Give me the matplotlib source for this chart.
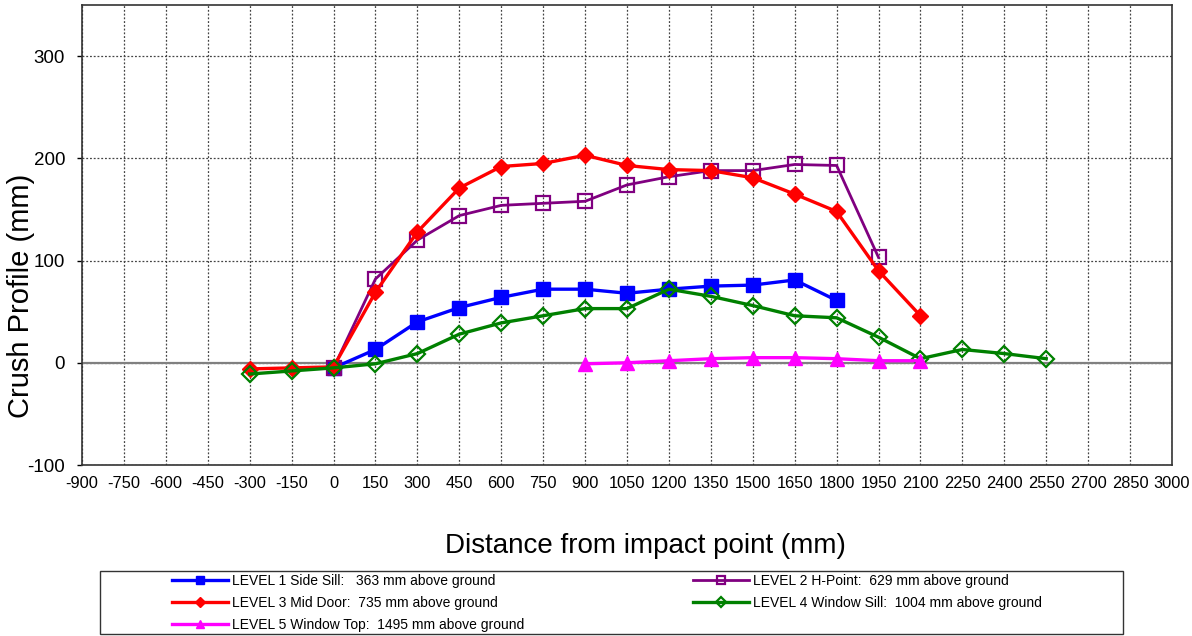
import matplotlib
matplotlib.use("Agg")
import matplotlib.pyplot as plt
from matplotlib.patches import Rectangle

plt.rcParams['font.family'] = ['Liberation Sans', 'DejaVu Sans']
plt.rcParams['axes.unicode_minus'] = False

# ---- data ----
x_l1 = [0, 150, 300, 450, 600, 750, 900, 1050, 1200, 1350, 1500, 1650, 1800]
y_l1 = [-5, 13, 40, 54, 64, 72, 72, 68, 72, 75, 76, 81, 61]

x_l2 = [0, 150, 300, 450, 600, 750, 900, 1050, 1200, 1350, 1500, 1650, 1800, 1950]
y_l2 = [-5, 82, 120, 144, 154, 156, 158, 174, 182, 188, 188, 194, 193, 103]

x_l3 = [-300, -150, 0, 150, 300, 450, 600, 750, 900, 1050, 1200, 1350, 1500, 1650, 1800, 1950, 2100]
y_l3 = [-6, -5, -4, 69, 128, 171, 192, 195, 203, 193, 189, 188, 181, 165, 148, 90, 46]

x_l4 = [-300, -150, 0, 150, 300, 450, 600, 750, 900, 1050, 1200, 1350, 1500, 1650, 1800, 1950, 2100, 2250, 2400, 2550]
y_l4 = [-11, -8, -5, -1, 9, 28, 39, 46, 53, 53, 72, 65, 56, 46, 44, 25, 4, 13, 9, 4]

x_l5 = [900, 1050, 1200, 1350, 1500, 1650, 1800, 1950, 2100]
y_l5 = [-1, 0, 2, 4, 5, 5, 4, 2, 2]

labels = [
    "LEVEL 1 Side Sill:   363 mm above ground",
    "LEVEL 2 H-Point:  629 mm above ground",
    "LEVEL 3 Mid Door:  735 mm above ground",
    "LEVEL 4 Window Sill:  1004 mm above ground",
    "LEVEL 5 Window Top:  1495 mm above ground",
]
x_ticks = list(range(-900, 3001, 150))
y_ticks = [-100, 0, 100, 200, 300]

# ---- figure ----
W, H = 1192, 636
fig = plt.figure(figsize=(W / 100, H / 100), dpi=100)
ax = fig.add_axes([82 / W, 1 - 465 / H, 1090 / W, 460 / H])

ax.set_xlim(-900, 3000)
ax.set_ylim(-100, 350)
ax.set_xticks(x_ticks)
ax.set_yticks(y_ticks)
ax.tick_params(axis='y', labelsize=13.5, length=3.6, width=1, direction='out', colors='black', pad=8.6)
ax.tick_params(axis='x', labelsize=11.8, length=0, pad=8, colors='black')
ax.grid(True, linestyle=(0, (1.5, 1.5)), color='#444444', linewidth=0.9)
ax.set_axisbelow(True)
for s in ax.spines.values():
    s.set_color('#333333')
    s.set_linewidth(1.2)
ax.axhline(0, color='#808080', linewidth=1.6, zorder=1.5)

h1, = ax.plot(x_l1, y_l1, color='#0000FF', lw=2.4, marker='s', ms=10, mfc='#0000FF', mec='#0000FF', label=labels[0])
h2, = ax.plot(x_l2, y_l2, color='#800080', lw=2.0, marker='s', ms=10, mfc='none', mec='#800080', mew=1.6, label=labels[1])
h3, = ax.plot(x_l3, y_l3, color='#FF0000', lw=2.4, marker='D', ms=8, mfc='#FF0000', mec='#FF0000', label=labels[2])
h4, = ax.plot(x_l4, y_l4, color='#008000', lw=2.4, marker='D', ms=8, mfc='none', mec='#008000', mew=1.6, label=labels[3])
h5, = ax.plot(x_l5, y_l5, color='#FF00FF', lw=2.4, marker='^', ms=10, mfc='#FF00FF', mec='#FF00FF', label=labels[4])

ax.set_ylabel("Crush Profile (mm)", fontsize=21)
ax.yaxis.set_label_coords(-0.043, 0.367)
ax.set_xlabel("Distance from impact point (mm)", fontsize=20)
ax.xaxis.set_label_coords(0.5165, -0.148)

# legend frame
fig.patches.append(Rectangle((100 / W, 1 - 634 / H), 1023 / W, 63 / H, transform=fig.transFigure,
                             fill=False, edgecolor='#333333', linewidth=1.0))
leg = fig.legend([h1, h3, h5, h2, h4], [labels[0], labels[2], labels[4], labels[1], labels[3]],
                 ncol=2, loc='upper left', bbox_to_anchor=(165 / W, 1 - 567 / H),
                 frameon=False, fontsize=10, handlelength=4.0, handletextpad=0.3,
                 columnspacing=12.2, labelspacing=0.57, borderpad=0.0, markerscale=0.6)

fig.savefig("out.png", dpi=100)
